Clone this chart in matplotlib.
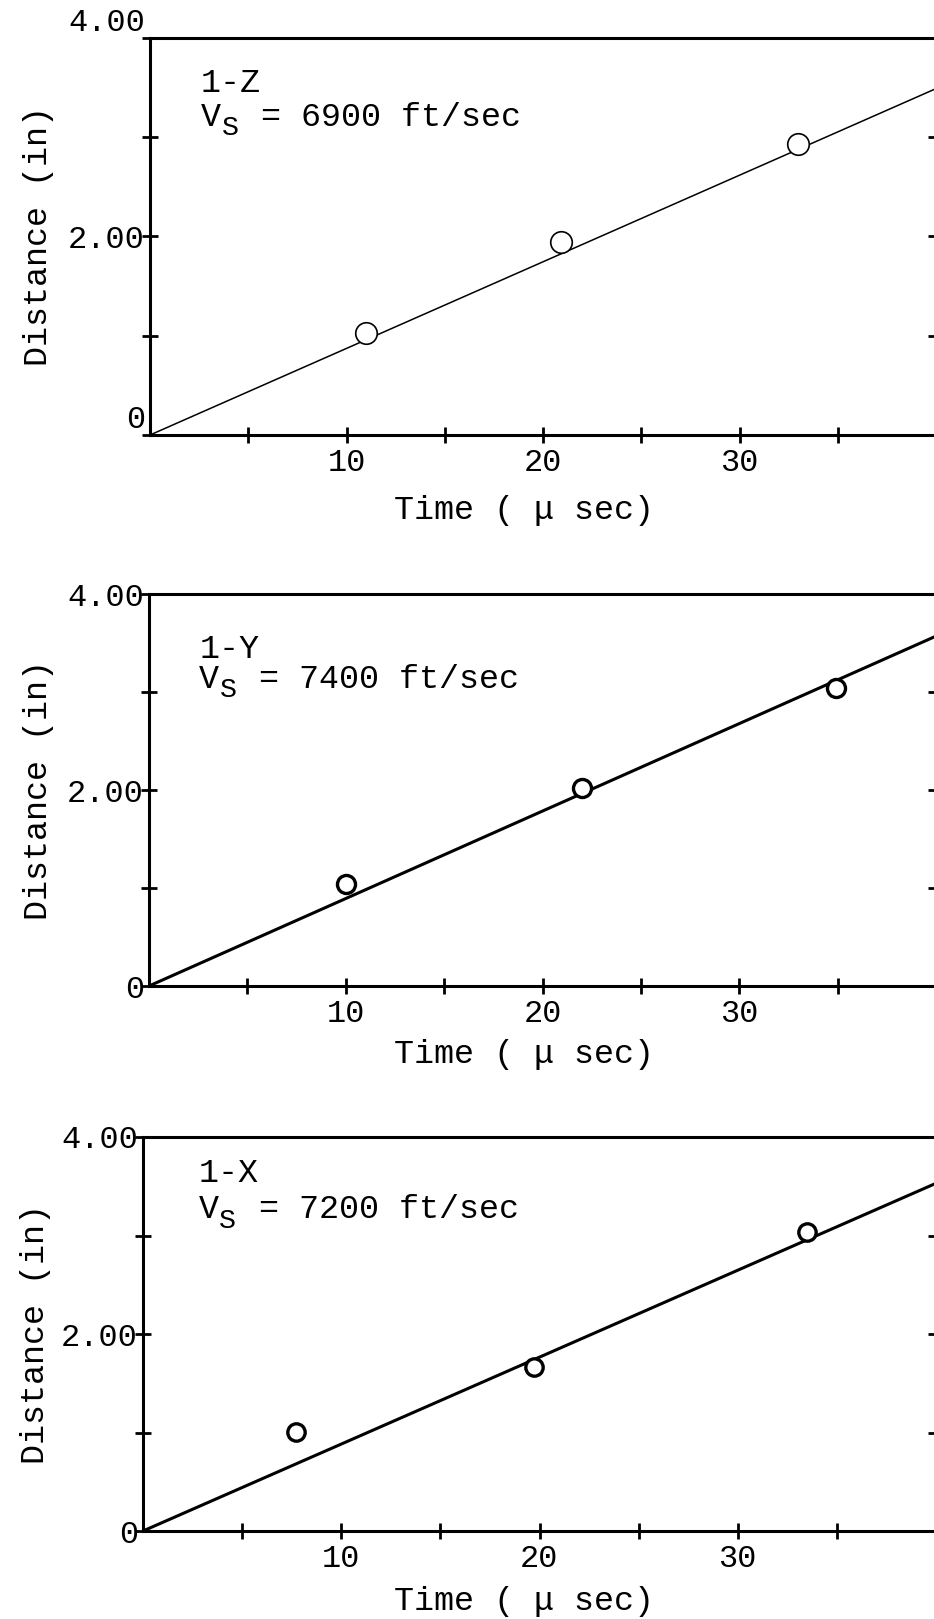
import matplotlib
matplotlib.use("Agg")
import matplotlib.pyplot as plt

plt.rcParams['font.family'] = ['Liberation Mono', 'DejaVu Sans Mono']

# data
time_z = [11.0, 20.9, 33.0]
dist_z = [1.03, 1.94, 2.93]
time_y = [10.0, 22.0, 34.9]
dist_y = [1.04, 2.02, 3.04]
time_x = [7.7, 19.7, 33.5]
dist_x = [1.01, 1.66, 3.04]

fit_t = [0, 40]
fit_z = [0, 3.49]
fit_y = [0, 3.57]
fit_x = [0, 3.53]

names = ['1-Z', '1-Y', '1-X']
speeds = [6900, 7400, 7200]

x_major = [10, 20, 30]
x_minor = [5, 15, 25, 35]
y_major = [0, 2, 4]
y_minor = [1, 3]
y_labels = ['0', '2.00', '4.00']

fig = plt.figure(figsize=(9.34, 16.19), dpi=100)

W, H = 934, 1619
FS = 24
CW = 0.6 * FS  # monospace character width in points


def panel(left, top, bottom, right=936):
    return fig.add_axes([left / W, 1 - bottom / H, (right - left) / W, (bottom - top) / H])


def draw(ax, t, d, fit_d, name, vs, lw, ms, mew, txt_pos, shift_labels, xlab_pos, ylab_x):
    ax.plot(fit_t, fit_d, color='black', lw=lw, zorder=2)
    ax.plot(t, d, 'o', ms=ms, mfc='white', mec='black', mew=mew, zorder=3)
    ax.set_xlim(0, 40)
    ax.set_ylim(0, 4)
    for s in ax.spines.values():
        s.set_linewidth(2.2)
    ax.set_xticks(x_major)
    ax.set_xticks(x_minor, minor=True)
    ax.set_xticklabels([str(v) for v in x_major])
    ax.set_yticks(y_major)
    ax.set_yticks(y_minor, minor=True)
    ax.set_yticklabels(y_labels)
    ax.tick_params(axis='both', which='both', direction='inout', length=11, width=2,
                   labelsize=23, right=True)
    ax.tick_params(axis='x', pad=4)
    ax.tick_params(axis='y', pad=-2)
    if shift_labels:
        lbls = ax.get_yticklabels()
        lbls[0].set_va('bottom')
        lbls[2].set_va('bottom')
    x0, y1, y2 = txt_pos
    ax.text(x0, y1, name, fontsize=FS, ha='left', va='center')
    # V with a large lowered S subscript, typewriter style
    ax.text(x0, y2, 'V', fontsize=FS, ha='left', va='center')
    ax.annotate('S', (x0, y2), xytext=(CW + 0.5, -0.33 * FS), textcoords='offset points',
                fontsize=FS * 0.85, ha='left', va='center')
    ax.annotate('= %d ft/sec' % vs, (x0, y2), xytext=(3 * CW, 0), textcoords='offset points',
                fontsize=FS, ha='left', va='center')
    ax.set_xlabel('Time ( \u03bc sec)', fontsize=FS)
    ax.xaxis.set_label_coords(xlab_pos[0], xlab_pos[1])
    ax.xaxis.label.set_va('center')
    ax.set_ylabel('Distance (in)', fontsize=FS)
    ax.yaxis.set_label_coords(ylab_x, 0.5)
    ax.yaxis.label.set_va('center')


ax1 = panel(150, 38, 435)
draw(ax1, time_z, dist_z, fit_z, names[0], speeds[0], 1.1, 15.5, 1.2,
     (2.6, 3.54, 3.20), True, (0.476, -0.19), -0.142)

ax2 = panel(149, 594, 986)
draw(ax2, time_y, dist_y, fit_y, names[1], speeds[1], 2.2, 13, 2.4,
     (2.55, 3.43, 3.13), False, (0.476, -0.176), -0.14)

ax3 = panel(143, 1137, 1531)
draw(ax3, time_x, dist_x, fit_x, names[2], speeds[2], 2.2, 12.5, 2.4,
     (2.8, 3.63, 3.26), False, (0.48, -0.18), -0.135)

fig.savefig('out.png', dpi=100)
